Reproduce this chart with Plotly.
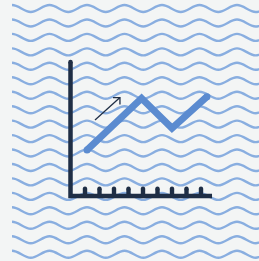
import plotly.graph_objects as go

# ---- data ----
# background wave rows (centre y, in pixels of the 259x261 canvas)
wave_rows = [8.5, 23.0, 37.4, 51.9, 66.3, 80.8, 95.2, 109.7, 124.1,
             138.6, 153.0, 167.5, 181.9, 196.4, 210.8, 225.3, 239.7, 254.2]
wave_start_x = 12.0
wave_period = 37.5
wave_amp = 3.5

# icon chart: x tick categories and line series (chart units)
tick_x = [1, 2, 3, 4, 5, 6, 7, 8, 9]
series_x = [1.14, 4.90, 7.00, 9.41]
series_y = [3.17, 6.74, 4.67, 6.85]
axis_x_end = 9.76
axis_y_end = 9.24
tick_h = 0.5
arrow_tail = (1.69, 5.24)
arrow_tip = (3.41, 6.79)
arrow_arm = 0.48

DARK = "#1f2e45"
BLUE = "#5b8bd0"
WAVE = "#89aee0"
BG = "#f3f5f5"

fig = go.Figure()

# waves as bezier paths (pixel axes x/y)
shapes = []
h = wave_period / 2
k = 0.3642 * h
for c in wave_rows:
    x = wave_start_x
    y = c - wave_amp
    d = f"M {x},{y}"
    sign = 1
    while x < 259 + h:
        ny = c + sign * wave_amp
        d += f" C {x + k},{y} {x + h - k},{ny} {x + h},{ny}"
        x += h
        y = ny
        sign = -sign
    shapes.append(dict(type="path", path=d, xref="x", yref="y",
                       line=dict(color=WAVE, width=2.4), layer="below"))

# invisible trace to hold the pixel axes
fig.add_trace(go.Scatter(x=[0, 259], y=[0, 261], mode="markers",
                         marker=dict(opacity=0), hoverinfo="skip",
                         showlegend=False, xaxis="x", yaxis="y"))

# ticks
tx, ty = [], []
for t in tick_x:
    tx += [t, t, None]
    ty += [0, tick_h, None]
fig.add_trace(go.Scatter(x=tx, y=ty, mode="lines", line=dict(color=DARK, width=4.4),
                         xaxis="x2", yaxis="y2", showlegend=False, hoverinfo="skip"))
fig.add_trace(go.Scatter(x=tick_x, y=[tick_h] * len(tick_x), mode="markers",
                         marker=dict(color=DARK, size=4.4, line=dict(width=0)),
                         xaxis="x2", yaxis="y2", showlegend=False, hoverinfo="skip"))

# axes of the icon
fig.add_trace(go.Scatter(x=[0, 0, axis_x_end], y=[axis_y_end, 0, 0], mode="lines",
                         line=dict(color=DARK, width=4.5),
                         xaxis="x2", yaxis="y2", showlegend=False, hoverinfo="skip"))
fig.add_trace(go.Scatter(x=[0], y=[axis_y_end], mode="markers",
                         marker=dict(color=DARK, size=4.5, line=dict(width=0)),
                         xaxis="x2", yaxis="y2", showlegend=False, hoverinfo="skip"))

# series line
fig.add_trace(go.Scatter(x=series_x, y=series_y, mode="lines",
                         line=dict(color=BLUE, width=7),
                         xaxis="x2", yaxis="y2", showlegend=False, hoverinfo="skip"))
fig.add_trace(go.Scatter(x=[series_x[0], series_x[-1]], y=[series_y[0], series_y[-1]],
                         mode="markers", marker=dict(color=BLUE, size=7, line=dict(width=0)),
                         xaxis="x2", yaxis="y2", showlegend=False, hoverinfo="skip"))

# arrow
ax_ = [arrow_tail[0], arrow_tip[0], None, arrow_tip[0] - arrow_arm, arrow_tip[0], arrow_tip[0]]
ay_ = [arrow_tail[1], arrow_tip[1], None, arrow_tip[1], arrow_tip[1], arrow_tip[1] - arrow_arm]
fig.add_trace(go.Scatter(x=ax_, y=ay_, mode="lines", line=dict(color=DARK, width=1.3),
                         xaxis="x2", yaxis="y2", showlegend=False, hoverinfo="skip"))

px_per_unit = 14.5
x0_px, y0_px = 70.5, 196.0
fig.update_layout(
    width=259, height=261, autosize=False,
    margin=dict(l=0, r=0, t=0, b=0),
    paper_bgcolor=BG, plot_bgcolor=BG,
    shapes=shapes,
    xaxis=dict(range=[0, 259], visible=False, fixedrange=True),
    yaxis=dict(range=[261, 0], visible=False, fixedrange=True),
    xaxis2=dict(range=[-x0_px / px_per_unit, (259 - x0_px) / px_per_unit],
                visible=False, overlaying="x", anchor="y2"),
    yaxis2=dict(range=[(y0_px - 261) / px_per_unit, y0_px / px_per_unit],
                visible=False, overlaying="y", anchor="x2"),
    showlegend=False,
)

fig.write_html("out.html", config={"displayModeBar": False},
               post_script="document.body.style.margin='0';document.body.style.overflow='hidden';")
